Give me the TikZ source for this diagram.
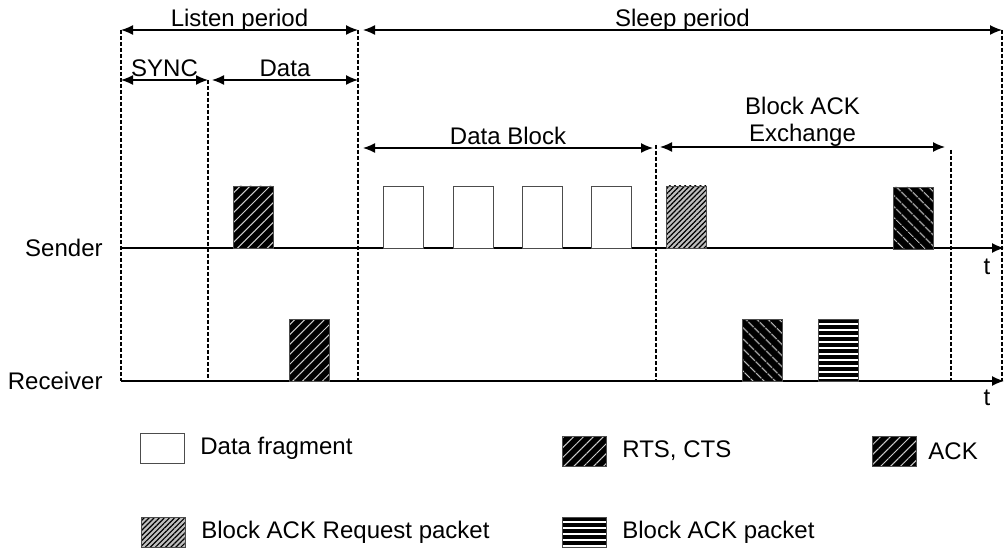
\documentclass[tikz,border=0pt]{standalone}
\usepackage{fontspec}
\setmainfont{Liberation Sans}
\usetikzlibrary{arrows.meta,patterns.meta,positioning}
\tikzset{%
	dimline/.style  = {<->, >={Latex[length=6pt,width=5pt]}, line width=0.7pt},
	axisline/.style = {->, >={Latex[length=6pt,width=5pt]}, line width=0.7pt},
	divline/.style  = {line width=0.6pt, dash pattern=on 2pt off 1pt},
	label/.style    = {font=\fontsize{12}{13.5}\selectfont, inner sep=0pt},
	dimlabel/.style = {label, midway, anchor=base, yshift=1.5pt},
	pkt/.style      = {draw=black!70, line width=0.4pt, inner sep=0pt, outer sep=0pt, minimum width=20pt, minimum height=31pt, anchor=south west},
	legbox/.style   = {pkt, minimum width=22pt, minimum height=15pt},
	datafrag/.style = {fill=white},
	rtscts/.style   = {preaction={fill=black}, pattern={Lines[angle=45,distance=3.5pt,line width=0.5pt]}, pattern color=white!80!black},
	ackpkt/.style   = {preaction={fill=black}, pattern={Lines[angle=-45,distance=4pt,line width=0.6pt]}, pattern color=white!85!black},
	barpkt/.style   = {preaction={fill=black!25}, pattern={Lines[angle=45,distance=1.8pt,line width=0.6pt]}, pattern color=black},
	bapkt/.style    = {preaction={fill=white}, pattern={Lines[angle=0,distance=3pt,line width=1.6pt]}, pattern color=black},
}

\begin{document}
\begin{tikzpicture}[x=0.5pt,y=-0.5pt]
	\useasboundingbox (0,0) rectangle (1004,555);
	
	% time lines
	\coordinate (s0) at (121,248); \coordinate (s1) at (1004,248);
	\coordinate (r0) at (121,381); \coordinate (r1) at (1004,381);
	\draw[axisline] (s0) -- (s1);
	\draw[axisline] (r0) -- (r1);
	\node[label, left=9pt of s0] (sender) {Sender};
	\node[label, left=9pt of r0] (receiver) {Receiver};
	\node[label] (ts) at (987,267) {t};
	\node[label] (tr) at (987,398) {t};
	
	% period boundaries
	\coordinate (b0) at (121,30);  \coordinate (b0e) at (121,381);
	\coordinate (b1) at (208,80);  \coordinate (b1e) at (208,381);
	\coordinate (b2) at (358,30);  \coordinate (b2e) at (358,381);
	\coordinate (b3) at (656,145); \coordinate (b3e) at (656,381);
	\coordinate (b4) at (951,150); \coordinate (b4e) at (951,381);
	\coordinate (b5) at (1002,30); \coordinate (b5e) at (1002,381);
	\foreach \b in {0,...,5} \draw[divline] (b\b) -- (b\b e);
	
	% period arrows
	\draw[dimline] (b0) -- (b2) node[dimlabel] (listen) {Listen period};
	\draw[dimline] (363,30) -- (b5) node[dimlabel] (sleep) {Sleep period};
	\draw[dimline] (121,80) -- (b1) node[dimlabel] (sync) {SYNC};
	\draw[dimline] (212,80) -- (358,80) node[dimlabel] (data) {Data};
	\draw[dimline] (363,148) -- (653,148) node[dimlabel] (datablock) {Data Block};
	\draw[dimline] (660,147) -- (945,147) node[label, midway, above=0pt, align=center] (baexch) {Block ACK\\Exchange};
	
	% packets on the sender
	\node[pkt, rtscts] (rts) at (233,248) {};
	\foreach \x [count=\i] in {383,453,522,591} \node[pkt, datafrag] (frag\i) at (\x,248) {};
	\node[pkt, barpkt] (bar) at (666,248) {};
	\node[pkt, ackpkt] (ackS) at (893,249) {};
	
	% packets on the receiver
	\node[pkt, rtscts] (cts) at (289,381) {};
	\node[pkt, ackpkt] (ackR) at (742,381) {};
	\node[pkt, bapkt] (ba) at (818,381) {};
	
	% legend
	\node[legbox, datafrag] (legfrag) at (140,463) {};
	\node[label, right=8pt of legfrag] (legfragtxt) {Data fragment};
	\node[legbox, barpkt] (legbar) at (141,547) {};
	\node[label, right=8pt of legbar] (legbartxt) {Block ACK Request packet};
	\node[legbox, rtscts] (legrts) at (562,466) {};
	\node[label, right=8pt of legrts] (legrtstxt) {RTS, CTS};
	\node[legbox, rtscts] (legack) at (872,466) {};
	\node[label, right=6pt of legack] (legacktxt) {ACK};
	\node[legbox, bapkt] (legba) at (562,547) {};
	\node[label, right=8pt of legba] (legbatxt) {Block ACK packet};
\end{tikzpicture}
\end{document}
